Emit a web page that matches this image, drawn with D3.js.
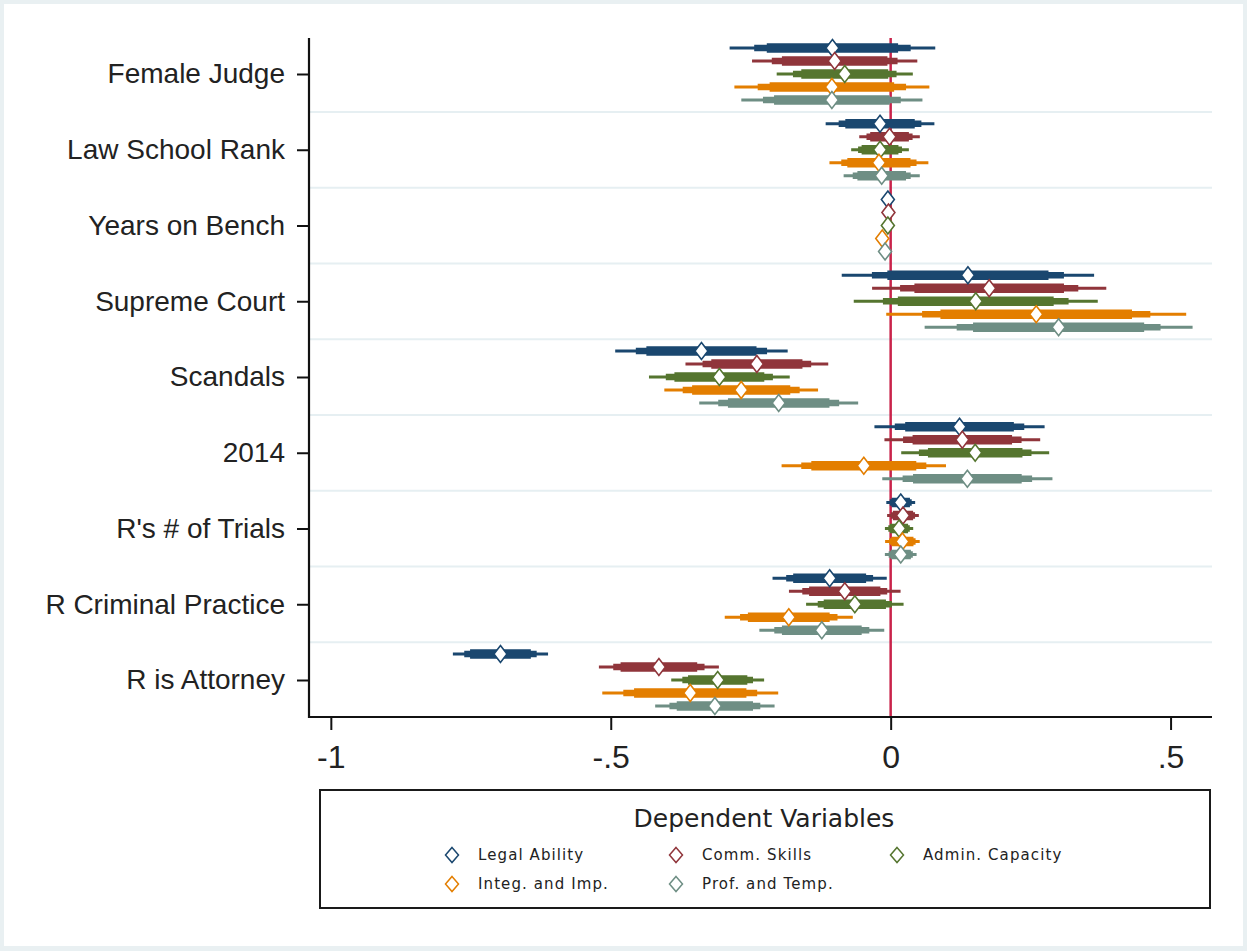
<!DOCTYPE html>
<html>
<head>
<meta charset="utf-8">
<script src="https://cdn.jsdelivr.net/npm/d3@7"></script>
<style>
  html, body { margin: 0; padding: 0; background: #fff; }
  svg { display: block; }
</style>
</head>
<body>
<svg id="chart" width="1247" height="951"></svg>
<script>
// categories, top to bottom
const categories = ['Female Judge', 'Law School Rank', 'Years on Bench', 'Supreme Court',
  'Scandals', '2014', "R's # of Trials", 'R Criminal Practice', 'R is Attorney'];

const seriesNames = ['Legal Ability', 'Comm. Skills', 'Admin. Capacity', 'Integ. and Imp.', 'Prof. and Temp.'];
const seriesColors = ['#1a476f', '#90353b', '#55752f', '#e37e00', '#6e8e84'];

// point estimates (per category) and standard errors
const legalEst = [-0.104, -0.019, -0.005, 0.138, -0.338, 0.123, 0.018, -0.109, -0.697];
const legalSE = [0.0713, 0.0377, 0.002, 0.0875, 0.0598, 0.059, 0.010, 0.0396, 0.033];
const commEst = [-0.100, -0.002, -0.004, 0.176, -0.239, 0.128, 0.022, -0.082, -0.414];
const commSE = [0.0573, 0.021, 0.002, 0.0812, 0.0495, 0.054, 0.011, 0.0387, 0.0416];
const adminEst = [-0.082, -0.019, -0.005, 0.152, -0.306, 0.151, 0.015, -0.064, -0.309];
const adminSE = [0.0472, 0.020, 0.002, 0.0846, 0.0488, 0.0513, 0.0098, 0.0338, 0.0322];
const integEst = [-0.105, -0.021, -0.015, 0.260, -0.267, -0.048, 0.021, -0.182, -0.358];
const integSE = [0.0676, 0.0343, 0.002, 0.104, 0.0533, 0.057, 0.012, 0.0444, 0.061];
const profEst = [-0.105, -0.016, -0.010, 0.300, -0.200, 0.137, 0.018, -0.123, -0.314];
const profSE = [0.0628, 0.0264, 0.002, 0.0929, 0.0551, 0.059, 0.011, 0.0433, 0.0414];

const xTicks = [-1, -0.5, 0, 0.5];
// CI levels 99 / 95 / 90 and bar thickness
const ciZ = [2.576, 1.96, 1.645];
const ciWidth = [3, 6.5, 9.5];

const estimates = [legalEst, commEst, adminEst, integEst, profEst];
const errors = [legalSE, commSE, adminSE, integSE, profSE];

(function () {
  const svg = d3.select('#chart');
  const W = 1247, H = 951;
  const pLeft = 309, pRight = 1212, pTop = 38, pBottom = 717;

  // frame
  svg.append('rect').attr('width', W).attr('height', H).attr('fill', '#e9f0f2');
  svg.append('rect').attr('x', 4).attr('y', 4).attr('width', W - 8).attr('height', H - 9).attr('fill', '#fff');

  const x = d3.scaleLinear().domain([-1.039, 0.574]).range([pLeft, pRight]);
  const y = d3.scalePoint().domain(categories).range([74, 680]);
  const step = y.step();
  const offsets = [-26, -13, 0, 13, 26];

  // gridlines between categories
  svg.append('g').selectAll('line')
    .data(categories.slice(1))
    .join('line')
    .attr('x1', pLeft).attr('x2', pRight)
    .attr('y1', (d) => y(d) - step / 2).attr('y2', (d) => y(d) - step / 2)
    .attr('stroke', '#e6eff2').attr('stroke-width', 2);

  // zero line
  svg.append('line')
    .attr('x1', x(0)).attr('x2', x(0)).attr('y1', pTop).attr('y2', pBottom)
    .attr('stroke', '#c9234a').attr('stroke-width', 2.5);

  // one row per series x category
  const rows = [];
  estimates.forEach((est, s) => {
    est.forEach((v, c) => {
      rows.push({ s, cat: categories[c], est: v, se: errors[s][c] });
    });
  });

  const marks = svg.append('g');
  ciZ.forEach((z, k) => {
    marks.append('g').selectAll('rect')
      .data(rows)
      .join('rect')
      .attr('x', (d) => x(d.est - z * d.se))
      .attr('width', (d) => x(d.est + z * d.se) - x(d.est - z * d.se))
      .attr('y', (d) => y(d.cat) + offsets[d.s] - ciWidth[k] / 2)
      .attr('height', ciWidth[k])
      .attr('fill', (d) => seriesColors[d.s]);
  });

  const diamond = (w, h) => `M0,${-h}L${w},0L0,${h}L${-w},0Z`;
  marks.append('g').selectAll('path')
    .data(rows)
    .join('path')
    .attr('d', diamond(6.5, 8.5))
    .attr('transform', (d) => `translate(${x(d.est)},${y(d.cat) + offsets[d.s]})`)
    .attr('fill', '#fff')
    .attr('stroke', (d) => seriesColors[d.s])
    .attr('stroke-width', 1.6);

  // axes
  const yAxis = svg.append('g')
    .attr('transform', `translate(${pLeft},0)`)
    .call(d3.axisLeft(y).tickSize(12).tickPadding(12));
  yAxis.select('.domain').remove();
  yAxis.selectAll('line').attr('stroke', '#111').attr('stroke-width', 2);
  yAxis.selectAll('text')
    .attr('font-family', 'Liberation Sans, Arial, sans-serif')
    .attr('font-size', 28).attr('fill', '#222');
  svg.append('line').attr('x1', pLeft).attr('x2', pLeft).attr('y1', pTop).attr('y2', pBottom + 1)
    .attr('stroke', '#111').attr('stroke-width', 2.2);

  const xAxis = svg.append('g')
    .attr('transform', `translate(0,${pBottom})`)
    .call(d3.axisBottom(x).tickValues(xTicks).tickSize(13)
      .tickFormat((d) => d === 0 ? '0' : String(d).replace('0.', '.')));
  xAxis.select('.domain').remove();
  xAxis.selectAll('line').attr('stroke', '#111').attr('stroke-width', 2);
  xAxis.selectAll('text')
    .attr('y', 51).attr('dy', 0)
    .attr('font-family', 'Liberation Sans, Arial, sans-serif')
    .attr('font-size', 32).attr('fill', '#222');
  svg.append('line').attr('x1', pLeft - 1).attr('x2', pRight).attr('y1', pBottom).attr('y2', pBottom)
    .attr('stroke', '#111').attr('stroke-width', 2.2);

  // legend
  const lg = svg.append('g');
  lg.append('rect').attr('x', 320).attr('y', 790).attr('width', 890).attr('height', 118)
    .attr('fill', '#fff').attr('stroke', '#1a1a1a').attr('stroke-width', 2);
  lg.append('text').attr('x', 764).attr('y', 827).attr('text-anchor', 'middle')
    .attr('font-family', 'DejaVu Sans, sans-serif').attr('font-size', 25).attr('fill', '#222')
    .text('Dependent Variables');
  const legendCols = [452, 676, 897];
  const legendRows = [855, 884];
  const item = lg.selectAll('g.item')
    .data(seriesNames)
    .join('g')
    .attr('class', 'item')
    .attr('transform', (d, i) => `translate(${legendCols[i % 3]},${legendRows[Math.floor(i / 3)]})`);
  item.append('path').attr('d', diamond(6.5, 7.5)).attr('fill', '#fff')
    .attr('stroke', (d, i) => seriesColors[i]).attr('stroke-width', 1.5);
  item.append('text').attr('x', 26).attr('y', 5)
    .attr('font-family', 'DejaVu Sans, sans-serif').attr('font-size', 15)
    .attr('letter-spacing', 1.1).attr('fill', '#222')
    .text((d) => d);
})();
</script>
</body>
</html>
